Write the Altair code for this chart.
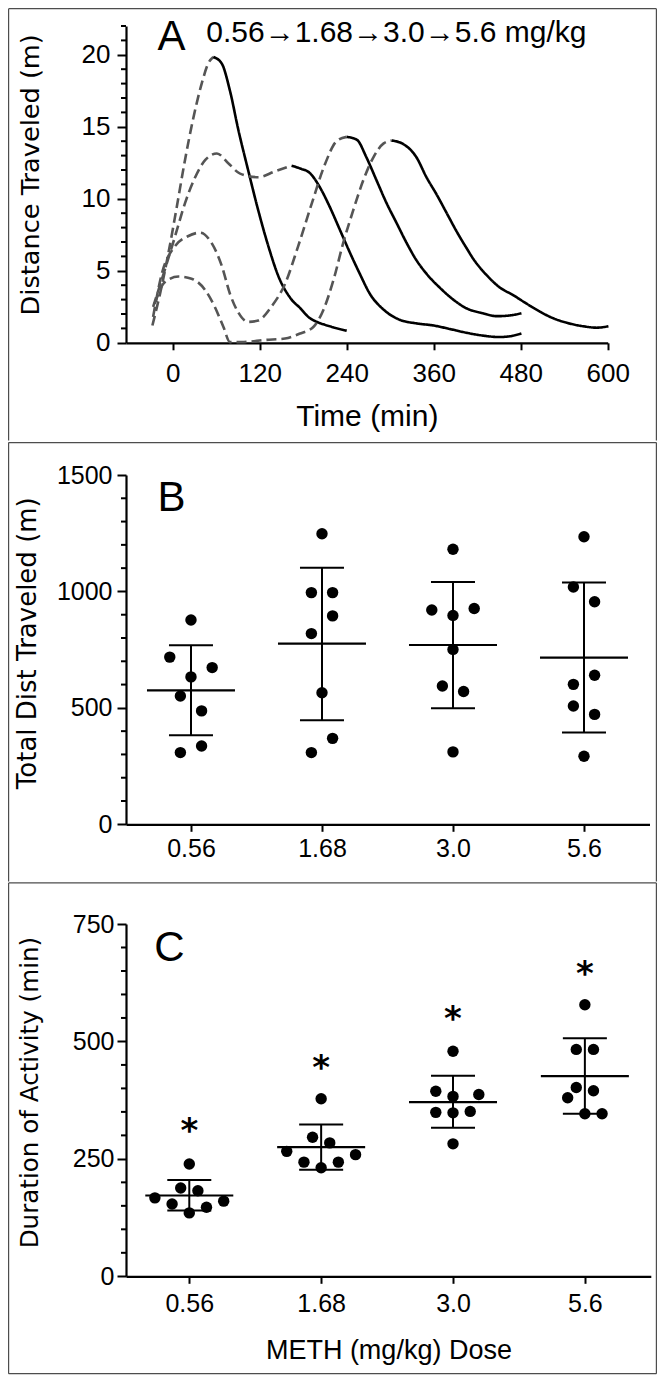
import json
import altair as alt
import pandas as pd

FONT = "Liberation Sans"
TFONT = "DejaVu Sans"
BORDER = "#4d4d4d"

# ---------------- Panel A data (time course) ----------------
CURVES = ["0.56", "1.68", "3.0", "5.6"]
PRE_T = [
    [-28, -17.5, -6, 5.5, 17, 28, 40, 49, 56],
    [-27, -11, 3, 17, 31, 45, 61, 77, 93, 118, 141, 164],
    [-27, -15, 3, 21, 38, 54, 68, 79, 90, 104, 118, 136, 155, 173, 192, 210, 226, 240],
    [-25, -11, 8, 26, 45, 58, 70, 79, 95, 128, 155, 176, 194, 208, 222, 235, 249, 263, 277, 291, 302],
]
PRE_V = [
    [1.2, 3.4, 6.2, 9.4, 12.7, 15.5, 18.0, 19.4, 19.85],
    [2.5, 5.05, 7.35, 9.7, 11.5, 12.7, 13.15, 12.45, 11.75, 11.5, 11.9, 12.3],
    [1.8, 4.8, 6.7, 7.4, 7.65, 6.9, 5.3, 3.4, 2.15, 1.45, 1.55, 2.5, 4.1, 6.7, 9.7, 12.4, 14.0, 14.3],
    [2.7, 4.2, 4.6, 4.45, 3.65, 2.5, 1.1, 0.05, 0.05, 0.2, 0.3, 0.65, 1.1, 2.3, 4.4, 6.9, 9.2, 11.3, 12.9, 13.85, 14.05],
]
POST_T = [
    [56, 67.6, 79, 90.5, 104, 118, 132, 146, 164, 176, 187, 199, 210, 222, 240],
    [164, 176, 189, 203, 217, 231, 245, 258, 272, 291, 313, 336, 360, 383, 405, 428, 450, 465, 481],
    [240, 254, 267, 281, 295, 309, 323, 336, 350, 369, 387, 405, 428, 447, 465, 481],
    [302, 318, 336, 350, 364, 378, 392, 405, 415, 433, 451, 470, 484, 507, 525, 543, 566, 585, 601],
]
POST_V = [
    [19.85, 19.4, 17.5, 14.8, 12.0, 9.2, 6.7, 4.6, 3.0, 2.4, 1.8, 1.45, 1.25, 1.07, 0.84],
    [12.3, 12.1, 11.8, 10.8, 9.4, 7.8, 6.2, 4.8, 3.4, 2.3, 1.6, 1.35, 1.2, 0.95, 0.7, 0.5, 0.4, 0.45, 0.65],
    [14.3, 14.1, 12.9, 11.3, 9.7, 8.3, 6.9, 5.75, 4.8, 3.8, 3.0, 2.4, 2.05, 1.85, 1.9, 2.05],
    [14.05, 13.8, 12.9, 11.5, 10.3, 9.0, 7.7, 6.6, 5.8, 4.7, 3.85, 3.3, 2.85, 2.15, 1.7, 1.4, 1.15, 1.05, 1.15],
]
A_XTICKS = [0, 120, 240, 360, 480, 600]
A_YTICKS = [0, 5, 10, 15, 20]
A_YMINOR = [v for v in range(1, 23) if v % 5 != 0]
A_HEADER = "0.56\u21921.68\u21923.0\u21925.6 mg/kg"

# ---------------- Panel B / C data ----------------
DOSES = ["0.56", "1.68", "3.0", "5.6"]
B_VALS = [
    [877, 718, 673, 633, 551, 487, 308, 336],
    [1248, 995, 995, 895, 819, 565, 369, 308],
    [1181, 920, 927, 897, 751, 594, 570, 311],
    [1235, 1019, 956, 640, 601, 508, 472, 292],
]
B_LANES = [
    [0, -2, 2, 0, -1, 1, -1, 1],
    [0, -1, 1, 1, -1, 0, 1, -1],
    [0, -2, 2, 0, 0, -1, 1, 0],
    [0, -1, 1, 1, -1, -1, 1, 0],
]
B_MEAN = [575, 776, 770, 716]
B_UPPER = [769, 1102, 1041, 1038]
B_LOWER = [382, 447, 498, 394]
B_YTICKS = [0, 500, 1000, 1500]
B_YMINOR = [v for v in range(100, 1500, 100) if v % 500 != 0]

C_VALS = [
    [239, 188, 182, 167, 160, 154, 147, 135],
    [378, 296, 284, 266, 259, 243, 243, 231],
    [479, 394, 383, 387, 349, 348, 351, 282],
    [578, 483, 483, 402, 395, 380, 346, 346],
]
C_LANES = [
    [0, -1, 1, -4, 4, -2, 2, 0],
    [0, -1, 1, -4, 4, -2, 2, 0],
    [0, -2, 0, 3, -2, 0, 2, 0],
    [0, -1, 1, -1, 1, -2, 0, 2],
]
C_MEAN = [172, 275, 371, 426]
C_UPPER = [205, 323, 427, 507]
C_LOWER = [140, 227, 316, 346]
C_STAR = [326, 461, 564, 660]
C_YTICKS = [0, 250, 500, 750]
C_YMINOR = [v for v in range(50, 750, 50) if v % 250 != 0]

OX = 126.0  # common left edge of the plot areas (page px)


def axis(**kw):
    base = dict(domainColor="black", domainWidth=2.2, tickColor="black", tickWidth=2,
                labelFont=FONT, labelColor="black", titleFont=FONT, titleColor="black",
                titleFontWeight="normal", grid=False, labelFlush=False, labelOverlap=False)
    base.update(kw)
    return alt.Axis(**base)


def frame(oy, top, bottom, draw_bottom):
    L, R = 8.6 - OX, 656.4 - OX
    T, B = top - oy, bottom - oy
    src = alt.Chart(alt.Data(values=[{"f": 1}]))
    m = dict(color=BORDER, strokeWidth=1.2)
    parts = [
        src.mark_rule(**m).encode(x=alt.value(L), x2=alt.value(R), y=alt.value(T)),
        src.mark_rule(**m).encode(x=alt.value(L), y=alt.value(T), y2=alt.value(B)),
        src.mark_rule(**m).encode(x=alt.value(R), y=alt.value(T), y2=alt.value(B)),
    ]
    if draw_bottom:
        parts.append(src.mark_rule(**m).encode(x=alt.value(L), x2=alt.value(R), y=alt.value(B)))
    return parts


# ======================= Panel A =======================
AY0, AW, AH = 25.9, 481.7, 316.8
rows = []
for i, c in enumerate(CURVES):
    for t, v in zip(PRE_T[i], PRE_V[i]):
        rows.append({"key": f"{c}-pre", "seg": "pre", "t": t, "v": v})
    for t, v in zip(POST_T[i], POST_V[i]):
        rows.append({"key": f"{c}-post", "seg": "post", "t": t, "v": v})
df_a = pd.DataFrame(rows)

XA = alt.X("t:Q", scale=alt.Scale(domain=[-64.4, 600], nice=False, zero=False),
           axis=axis(values=A_XTICKS, tickSize=7, labelFontSize=26, labelPadding=32,
                     labelBaseline="alphabetic", title="Time (min)", titleFontSize=30,
                     titleBaseline="alphabetic", titleY=82.3))
YA = alt.Y("v:Q", scale=alt.Scale(domain=[0, 22], nice=False),
           axis=axis(values=A_YTICKS, tickSize=9, labelFontSize=26, labelPadding=7, format="d",
                     title="Distance Traveled (m)", titleFont=TFONT, titleFontSize=25.6, titleAngle=270,
                     titleAlign="center", titleBaseline="alphabetic", titleX=38.5 - OX, titleY=148.3))

lines_a = alt.Chart(df_a).mark_line(interpolate="monotone", strokeWidth=2.6).encode(
    x=XA, y=YA, detail="key:N",
    color=alt.Color("seg:N", scale=alt.Scale(domain=["pre", "post"], range=["#555555", "#000000"]), legend=None),
    strokeDash=alt.StrokeDash("seg:N", scale=alt.Scale(domain=["pre", "post"], range=[[10, 5], [1, 0]]), legend=None),
)
minor_a = alt.Chart(pd.DataFrame({"v": A_YMINOR})).mark_rule(color="black", strokeWidth=2).encode(
    y=YA, x=alt.value(-5), x2=alt.value(0))
letter_a = alt.Chart(pd.DataFrame([{"t": -21, "v": 20.3, "txt": "A"}])).mark_text(
    font=FONT, fontSize=42, align="left", baseline="alphabetic", color="black").encode(x=XA, y=YA, text="txt:N")
head_a = alt.Chart(pd.DataFrame([{"t": 46.3, "v": 20.9, "txt": A_HEADER}])).mark_text(
    font=FONT, fontSize=30, align="left", baseline="alphabetic", color="black").encode(x=XA, y=YA, text="txt:N")

panel_a = alt.layer(lines_a, minor_a, letter_a, head_a,
                    *frame(AY0, 8.6, 440.4, False)).properties(width=AW, height=AH)


# ======================= Panels B & C =======================
def dot_panel(vals, lanes, mean, upper, lower, yticks, yminor, ydom, xdom, step, oy, w, h, top, bottom,
              last, ytitle, ytitle_size, ytitle_x, ytitle_y, ylab_pad, xlab_pad, letter, letter_xy, lane_px,
              xtitle=None, stars=None):
    lane = lane_px / step
    pts = []
    for g in range(4):
        for v, ln in zip(vals[g], lanes[g]):
            pts.append({"x": g + ln * lane, "y": v})
    df_pts = pd.DataFrame(pts)
    half_mean, half_cap = 44.0 / step, 22.0 / step
    df_mean = pd.DataFrame({"x": [g - half_mean for g in range(4)], "x2": [g + half_mean for g in range(4)], "y": mean})
    df_capu = pd.DataFrame({"x": [g - half_cap for g in range(4)], "x2": [g + half_cap for g in range(4)], "y": upper})
    df_capl = pd.DataFrame({"x": [g - half_cap for g in range(4)], "x2": [g + half_cap for g in range(4)], "y": lower})
    df_sd = pd.DataFrame({"x": list(range(4)), "y": lower, "y2": upper})

    xkw = dict(values=[0, 1, 2, 3], labelExpr=f"{json.dumps(DOSES)}[datum.value]", tickSize=7,
               labelFontSize=25, labelPadding=xlab_pad, labelBaseline="alphabetic")
    if xtitle:
        xkw.update(title=xtitle, titleFontSize=27, titleBaseline="alphabetic", titleY=82)
    else:
        xkw.update(title=None)
    X = alt.X("x:Q", scale=alt.Scale(domain=xdom, nice=False, zero=False), axis=axis(**xkw))
    Y = alt.Y("y:Q", scale=alt.Scale(domain=ydom, nice=False),
              axis=axis(values=yticks, tickSize=9, labelFontSize=25, labelPadding=ylab_pad, format="d",
                        title=ytitle, titleFont=TFONT, titleFontSize=ytitle_size, titleAngle=270,
                        titleAlign="center", titleBaseline="alphabetic", titleX=ytitle_x, titleY=ytitle_y))

    layers = [
        alt.Chart(df_sd).mark_rule(color="black", strokeWidth=2).encode(x=X, y=Y, y2="y2:Q"),
        alt.Chart(df_mean).mark_rule(color="black", strokeWidth=2.2).encode(x=X, x2="x2:Q", y=Y),
        alt.Chart(df_capu).mark_rule(color="black", strokeWidth=2).encode(x=X, x2="x2:Q", y=Y),
        alt.Chart(df_capl).mark_rule(color="black", strokeWidth=2).encode(x=X, x2="x2:Q", y=Y),
        alt.Chart(df_pts).mark_circle(color="black", opacity=1, size=130).encode(x=X, y=Y),
        alt.Chart(pd.DataFrame({"y": yminor})).mark_rule(color="black", strokeWidth=2).encode(
            y=Y, x=alt.value(-5), x2=alt.value(0)),
        alt.Chart(pd.DataFrame([{"x": letter_xy[0], "y": letter_xy[1], "txt": letter}])).mark_text(
            font=FONT, fontSize=42, align="left", baseline="alphabetic", color="black").encode(x=X, y=Y, text="txt:N"),
    ]
    if stars is not None:
        layers.append(alt.Chart(pd.DataFrame({"x": list(range(4)), "y": stars, "txt": ["*"] * 4})).mark_text(
            font=TFONT, fontSize=34, fontWeight="bold", align="center", baseline="alphabetic", dy=19,
            color="black").encode(x=X, y=Y, text="txt:N"))
    layers += frame(oy, top, bottom, last)
    return alt.layer(*layers).properties(width=w, height=h)


panel_b = dot_panel(B_VALS, B_LANES, B_MEAN, B_UPPER, B_LOWER, B_YTICKS, B_YMINOR, [0, 1500],
                    [-0.496, 3.5], 131.0, 474.0, 523.5, 349.3, 441.6, 880.4, False,
                    "Total Dist Traveled (m)", 26, 35.5 - OX, 167.7, 5, 24.7, "B", (-0.255, 1345), 10.6)
panel_c = dot_panel(C_VALS, C_LANES, C_MEAN, C_UPPER, C_LOWER, C_YTICKS, C_YMINOR, [0, 750],
                    [-0.480, 3.5], 131.85, 922.7, 524.8, 352.3, 881.6, 1372.4, True,
                    "Duration of Activity (min)", 24.6, 37 - OX, 168.1, 3, 28, "C", (-0.265, 670.6), 8.6,
                    xtitle="METH (mg/kg) Dose", stars=C_STAR)

chart = alt.vconcat(panel_a, panel_b, panel_c, spacing=0).properties(padding=0).configure_view(strokeWidth=0)
chart.save("out.html", embed_options={"renderer": "svg", "actions": False})
